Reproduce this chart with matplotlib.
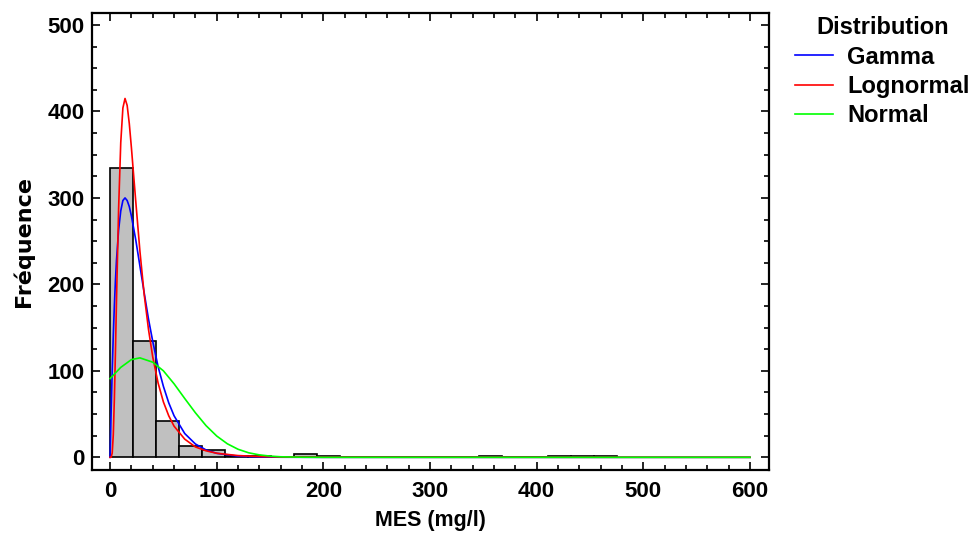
import matplotlib.pyplot as plt
from matplotlib.ticker import MultipleLocator
import numpy as np

# Histogramme des MES (mg/l)
bin_edges = np.linspace(0, 475, 23)
counts = [335, 135, 42, 13, 8, 2, 1, 0, 4, 1, 0, 0, 0, 0, 0, 0, 1, 0, 0, 1, 1, 1]

# Lois ajustées (fréquences)
gamma_x = [0, 1, 2, 3, 4, 5, 6, 8, 10, 12, 14, 16, 18, 20, 24, 28, 32, 36, 40, 45,
           50, 55, 60, 70, 80, 90, 100, 120, 140, 160, 200, 600]
gamma_y = [0, 54, 101, 141, 175, 204, 228, 263, 285, 297, 300, 297, 290, 279, 252, 221, 190, 160, 134, 105,
           82, 63, 48, 27.5, 15.4, 8.5, 4.6, 1.3, 0.4, 0.1, 0, 0]

logn_x = gamma_x
logn_y = [0, 0.1, 5, 26, 67, 121, 181, 288, 364, 404, 415, 407, 386, 358, 297, 238, 188, 148, 116, 86,
          64, 48, 36, 21, 12, 7.5, 4.7, 2, 0.9, 0.4, 0.1, 0]

norm_x = [0, 10, 20, 28, 40, 50, 60, 70, 80, 90, 100, 110, 120, 130, 140, 150, 160, 180, 200, 600]
norm_y = [91, 104, 113, 115, 110, 100, 85, 68, 51.5, 36.6, 24.6, 15.6, 9.3, 5.2, 2.8, 1.4, 0.6, 0.1, 0, 0]

fig = plt.figure(figsize=(9.76, 5.43), dpi=100)
ax = fig.add_axes([0.094, 0.1344, 0.6942, 0.8411])

ax.bar(bin_edges[:-1], counts, width=np.diff(bin_edges), align='edge',
       color='#c0c0c0', edgecolor='black', linewidth=1.2, zorder=1)
ax.plot(gamma_x, gamma_y, color='#0000ff', lw=1.2, label='Gamma', zorder=2)
ax.plot(logn_x, logn_y, color='#ff0000', lw=1.2, label='Lognormal', zorder=3)
ax.plot(norm_x, norm_y, color='#00ff00', lw=1.2, label='Normal', zorder=4)

ax.set_xlim(-17.2, 618.1)
ax.set_ylim(-14.7, 513.5)
ax.xaxis.set_major_locator(MultipleLocator(100))
ax.xaxis.set_minor_locator(MultipleLocator(20))
ax.yaxis.set_major_locator(MultipleLocator(100))
ax.yaxis.set_minor_locator(MultipleLocator(25))
ax.tick_params(which='both', direction='in', top=True, right=True, width=1.2)
ax.tick_params(axis='x', pad=8)
ax.tick_params(axis='y', pad=5)
ax.tick_params(which='major', length=6)
ax.tick_params(which='minor', length=3.6)
for s in ax.spines.values():
    s.set_linewidth(1.6)

for lab in ax.get_xticklabels() + ax.get_yticklabels():
    lab.set_fontfamily('Liberation Sans')
    lab.set_fontweight('bold')
    lab.set_fontsize(16)

ax.set_xlabel('MES (mg/l)', family='Liberation Sans', weight='bold', size=15.5, labelpad=6)
ax.set_ylabel('Fréquence', family='DejaVu Sans', weight='bold', size=16, labelpad=10)

leg = ax.legend(loc='upper left', bbox_to_anchor=(0.8146, 0.970), bbox_transform=fig.transFigure,
                frameon=False, title='Distribution', borderpad=0, borderaxespad=0,
                handlelength=1.6, handletextpad=0.6, labelspacing=0.27,
                prop={'family': 'Liberation Sans', 'weight': 'bold', 'size': 17},
                title_fontproperties={'family': 'Liberation Sans', 'weight': 'bold', 'size': 17})

fig.savefig('out.png', dpi=100)
